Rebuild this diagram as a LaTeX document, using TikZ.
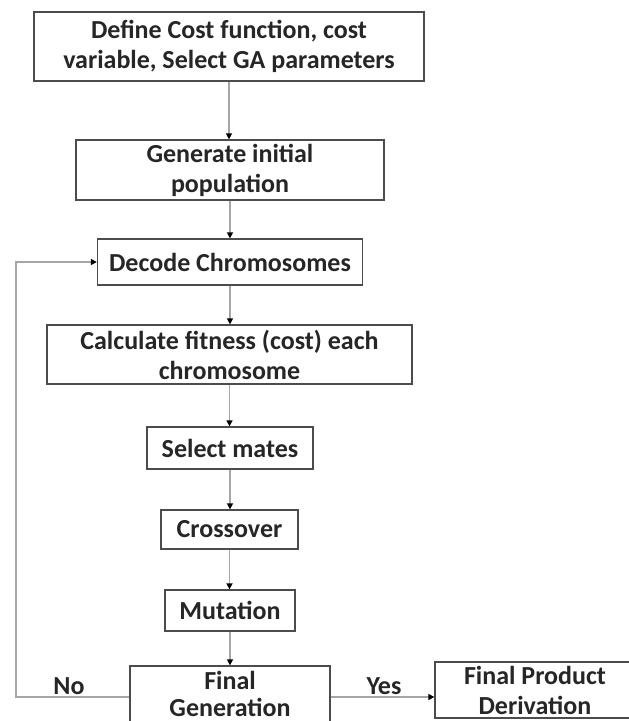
\documentclass[tikz,border=0pt]{standalone}
\usepackage{fontspec}
\setmainfont{Carlito}
\usetikzlibrary{arrows.meta}
\begin{document}
\begin{tikzpicture}[x=1pt,y=-1pt,
  box/.style={draw=black!70,line width=1.3pt,fill=white,align=center,inner sep=0pt,
    font=\fontsize{26}{30}\selectfont\bfseries,text=black!85},
  conn/.style={draw=black!35,line width=1.6pt,-{Triangle[length=6pt,width=6pt,color=black]}},
  lbl/.style={font=\fontsize{26}{30}\selectfont\bfseries,text=black!85,inner sep=0pt}]
\useasboundingbox (0,0) rectangle (629,721);
\clip (0,0) rectangle (629,721);
\node[box,minimum width=390pt,minimum height=69pt] (n1) at (229,46.5) {Define Cost function, cost\\variable, Select GA parameters};
\node[box,minimum width=308pt,minimum height=60pt] (n2) at (230,170) {Generate initial\\population};
\node[box,minimum width=265pt,minimum height=46pt] (n3) at (230,262) {Decode Chromosomes};
\node[box,minimum width=365pt,minimum height=59pt] (n4) at (229.5,354.5) {Calculate fitness (cost) each\\chromosome};
\node[box,minimum width=166pt,minimum height=42pt] (n5) at (230,448) {Select mates};
\node[box,minimum width=137pt,minimum height=39pt] (n6) at (229.5,529.5) {Crossover};
\node[box,minimum width=130pt,minimum height=41pt] (n7) at (230,610.5) {Mutation};
\node[box,minimum width=200pt,minimum height=56pt,font=\fontsize{26}{27}\selectfont\bfseries] (n8) at (230,694) {Final\\Generation};
\node[box,minimum width=200pt,minimum height=56pt] (n9) at (535,690) {Final Product\\Derivation};
\draw[conn] (n1.south) -- (n1.south |- n2.north);
\draw[conn] (n2.south) -- (n2.south |- n3.north);
\draw[conn] (n3.south) -- (n3.south |- n4.north);
\draw[conn] (n4.south) -- (n4.south |- n5.north);
\draw[conn] (n5.south) -- (n5.south |- n6.north);
\draw[conn] (n6.south) -- (n6.south |- n7.north);
\draw[conn] (n7.south) -- (n7.south |- n8.north);
\coordinate (lp) at (16,697);
\draw[conn] (n8.west |- lp) -- (lp) |- (n3.west);
\draw[conn] (n8.east |- lp) -- (lp -| n9.west);
\node[lbl] (no) at (69,686) {No};
\node[lbl] (yes) at (384,686) {Yes};
\end{tikzpicture}
\end{document}
